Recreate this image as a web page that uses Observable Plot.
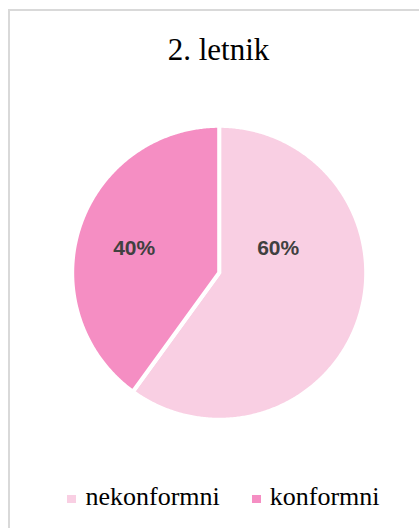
<!DOCTYPE html>
<html><head><meta charset="utf-8">
<script src="https://cdn.jsdelivr.net/npm/d3@7"></script>
<script src="https://cdn.jsdelivr.net/npm/@observablehq/plot@0.6"></script>
<style>
html,body{margin:0;padding:0;background:#fff;width:419px;height:528px;overflow:hidden}
#frame{position:absolute;left:8px;top:9px;width:440px;height:560px;border:2px solid #d9d9d9;box-sizing:border-box}
#chart{position:absolute;left:0;top:0}
.serif{font-family:"Liberation Serif","Nimbus Roman","Nimbus Roman No9 L","FreeSerif","Noto Serif","Tinos","DejaVu Serif","Times New Roman",Times,serif}
#title{position:absolute;left:0;top:34px;width:437px;text-align:center;font-size:31px;line-height:1;color:#000}
#legend{position:absolute;left:0;top:484px;width:447px;display:flex;justify-content:center;align-items:center;font-size:26px;line-height:1;color:#000}
.item{display:flex;align-items:center;margin:0 16px}
.sw{width:9px;height:8px;margin-right:9px;margin-top:3px}
</style>
</head><body>
<div id="frame"></div>
<div id="chart"></div>
<div id="title" class="serif">2. letnik</div>
<div id="legend" class="serif"></div>
<script>
const categories = ["nekonformni", "konformni"];
const values = [60, 40];
const labels = ["60%", "40%"];
const colors = ["#F9CFE3", "#F58EC3"];

// layout constants (pixels)
const W = 419, H = 528, cx = 218.7, cy = 272.3, R = 147;
// label offsets from pie centre (pixels)
const labelOffset = [[59, -25], [-85, -25]];

const arcs = d3.pie().sort(null).value(d => d)(values);
const pts = [];
arcs.forEach((a, i) => {
  const cat = categories[i];
  pts.push({cat, x: 0, y: 0});
  const n = Math.max(2, Math.ceil((a.endAngle - a.startAngle) / (Math.PI / 360)));
  for (let k = 0; k <= n; k++) {
    const t = a.startAngle + (a.endAngle - a.startAngle) * k / n;
    pts.push({cat, x: Math.sin(t), y: Math.cos(t)});
  }
  pts.push({cat, x: 0, y: 0});
});
const labelData = categories.map((c, i) => ({
  text: labels[i],
  x: labelOffset[i][0] / R,
  y: -labelOffset[i][1] / R
}));

const chart = Plot.plot({
  width: W, height: H,
  margin: 0,
  x: {domain: [-1, 1], range: [cx - R, cx + R], axis: null},
  y: {domain: [-1, 1], range: [cy + R, cy - R], axis: null},
  color: {domain: categories, range: colors},
  marks: [
    Plot.line(pts, {x: "x", y: "y", z: "cat", fill: "cat", stroke: "white", strokeWidth: 4, curve: "linear"}),
    Plot.text(labelData, {x: "x", y: "y", text: "text", fill: "#404040", fontSize: 21, fontWeight: "bold", fontFamily: "'Liberation Sans', Arial, sans-serif"})
  ]
});
document.getElementById("chart").appendChild(chart);

const leg = document.getElementById("legend");
categories.forEach((c, i) => {
  const it = document.createElement("div");
  it.className = "item";
  const sw = document.createElement("span");
  sw.className = "sw";
  sw.style.background = colors[i];
  const tx = document.createElement("span");
  tx.textContent = c;
  it.appendChild(sw); it.appendChild(tx);
  leg.appendChild(it);
});
</script>
</body></html>
